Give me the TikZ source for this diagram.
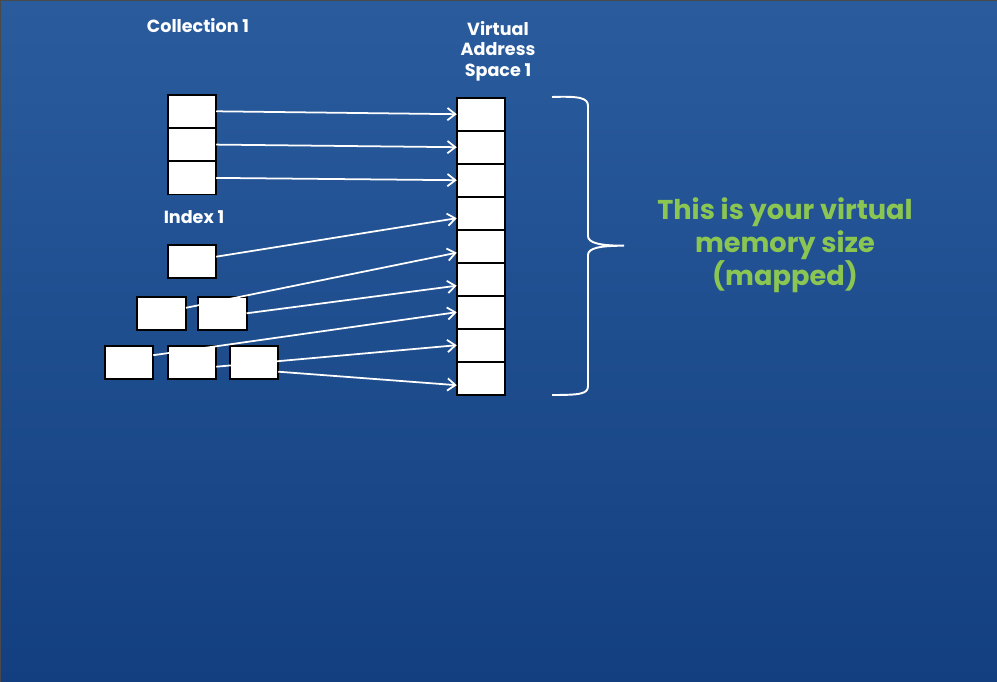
\documentclass[tikz,border=0pt]{standalone}
\usepackage{fontspec}
\setmainfont{Poppins}[Ligatures=NoCommon]
\usepackage{xcolor}
\definecolor{bgtop}{HTML}{2A5C9D}
\definecolor{bgbot}{HTML}{133F80}
\definecolor{frame}{HTML}{4A4A4A}
\definecolor{mapgreen}{HTML}{8CC652}
\usetikzlibrary{calc,arrows.meta,positioning}

\begin{document}
\begin{tikzpicture}[
		x=0.02cm,
		y=-0.02cm,
		>={Straight Barb[length=4.5pt,width=7pt]},
		slot/.style={draw=black, fill=white, line width=1.1pt, minimum width=0.97cm, minimum height=0.665cm, inner sep=0pt, outer sep=0pt},
		cell/.style={slot, minimum height=0.66cm},
		title/.style={text=white, font=\bfseries\fontsize{10}{11.6}\selectfont, align=center, inner sep=0pt},
		ptr/.style={->, white, line width=1pt}
	]
		\def\cellH{33}

		% Background
		\useasboundingbox (0,0) rectangle (997,682);
		\shade[top color=bgtop, bottom color=bgbot] (0,0) rectangle (997,682);
		\draw[frame, line width=0.04cm] (0,682) -- (0,0) -- (997,0);

		% Labels
		\node[title] (coll) at (198,26) {Collection 1};
		\node[title] (vas) at (498,51) {Virtual\\Address\\Space 1};
		\node[title] (idx) at (194,216.7) {Index 1};

		% Collection 1 documents
		\node[slot] (c1) at (192,111.3) {};
		\node[slot] (c2) at (192,144.6) {};
		\node[slot] (c3) at (192,177.9) {};

		% Index 1 b-tree nodes
		\node[slot] (i1) at (192,261.7) {};
		\node[slot] (ia) at (161.7,313.3) {};
		\node[slot] (ib) at (222.3,313.3) {};
		\node[slot] (ic) at (129,362.7) {};
		\node[slot] (id) at (192,362.7) {};
		\node[slot] (ie) at (254,362.7) {};

		% Virtual address space -- nine pages
		\foreach \i in {1,...,9}
			\node[cell] (v\i) at (481,{114.2+\cellH*(\i-1)}) {};

		% Mappings
		\draw[ptr] (c1.east) -- (v1.west);
		\draw[ptr] (c2.east) -- (v2.west);
		\draw[ptr] (c3.east) -- (v3.west);
		\draw[ptr] ([yshift=0.1cm]i1.east) -- ([yshift=-0.1cm]v4.west);
		\draw[ptr] ([yshift=0.11cm]ia.east) -- ([yshift=-0.13cm]v5.west);
		\draw[ptr] (ib.east) -- ([yshift=-0.13cm]v6.west);
		\draw[ptr] ([yshift=0.15cm]ic.east) -- (v7.west);
		\draw[ptr] ([yshift=-0.08cm]id.east) -- (v8.west);
		\draw[ptr] ([yshift=-0.18cm]ie.east) -- ([yshift=-0.14cm]v9.west);

		% Brace over the whole address space
		\coordinate (btop) at (552,97);
		\coordinate (btip) at (624,245.7);
		\coordinate (bbot) at (552,395);
		\draw[white, line width=1.1pt] (btop) .. controls (580,96) and (588,98) .. (588,106)
			-- (588,236) .. controls (588,243) and (600,245.7) .. (btip)
			.. controls (600,245.7) and (588,248) .. (588,255)
			-- (588,386) .. controls (588,394) and (580,395) .. (bbot);

		\node[text=mapgreen, font=\bfseries\fontsize{15.5}{18.7}\selectfont, align=center] (note) at (785,245) {This is your virtual\\memory size\\(mapped)};
	\end{tikzpicture}
\end{document}
